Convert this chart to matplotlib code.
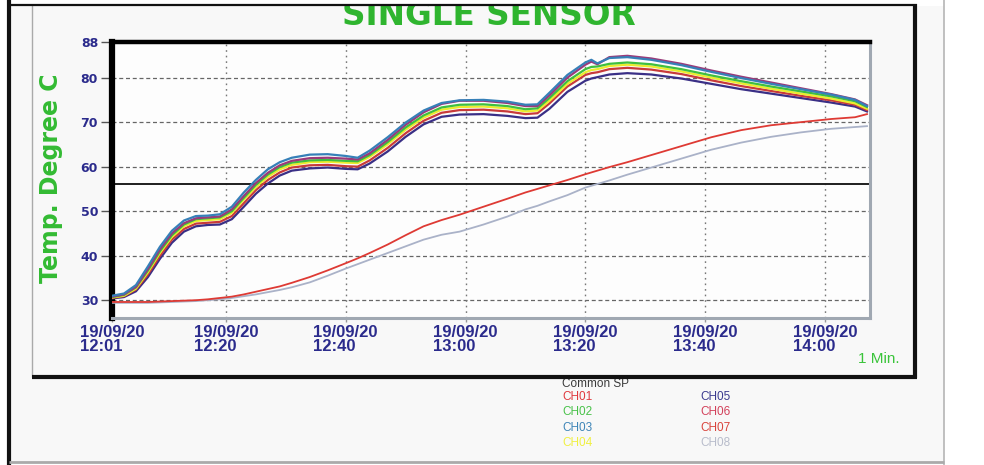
import matplotlib
matplotlib.use("Agg")
import matplotlib.pyplot as plt
from matplotlib.lines import Line2D
from matplotlib.patches import Rectangle

# ---------------- data ----------------
start_time = "12:01"
date_label = "19/09/20"
tick_times = ["12:01", "12:20", "12:40", "13:00", "13:20", "13:40", "14:00"]
x_end_min = 126.5          # minutes after start shown on the axis
y_ticks = [30, 40, 50, 60, 70, 80, 88]
y_range = (26, 88)
common_sp = 56.2

# sample times, minutes after 12:01
t_min = [0, 2, 4, 6, 8, 10, 12, 14, 16, 18, 20, 22, 24, 26, 28, 30, 33, 36, 39, 41,
         43, 46, 49, 52, 55, 58, 62, 66, 69, 71, 73, 76, 79, 80, 81, 83, 86, 90, 95,
         100, 105, 110, 115, 120, 124, 126]

ch01 = [30.5, 30.9, 32.4, 35.8, 40.0, 43.6, 46.0, 47.2, 47.4, 47.6, 48.9, 51.8, 54.7,
        57.0, 58.7, 59.8, 60.3, 60.4, 60.1, 60.0, 61.4, 64.2, 67.5, 70.3, 72.1, 72.7,
        72.8, 72.4, 71.8, 72.0, 74.2, 78.0, 80.6, 81.0, 81.2, 81.9, 82.2, 81.8, 80.8,
        79.4, 78.1, 77.0, 75.9, 74.9, 73.9, 72.7]
ch02 = [30.7, 31.2, 32.9, 36.7, 41.0, 44.6, 47.0, 48.2, 48.4, 48.6, 50.0, 53.0, 55.9,
        58.2, 59.9, 60.9, 61.4, 61.5, 61.3, 61.2, 62.6, 65.5, 68.8, 71.5, 73.3, 73.9,
        74.0, 73.6, 72.9, 73.1, 75.4, 79.2, 81.9, 82.4, 82.5, 83.1, 83.4, 83.0, 81.9,
        80.5, 79.2, 78.0, 76.9, 75.8, 74.7, 73.4]
ch03 = [31.0, 31.5, 33.4, 37.6, 42.0, 45.6, 47.9, 48.9, 49.0, 49.3, 51.0, 54.2, 57.0,
        59.4, 61.0, 62.0, 62.7, 62.8, 62.4, 62.0, 63.6, 66.6, 69.9, 72.6, 74.3, 74.9,
        75.0, 74.6, 73.9, 74.0, 76.6, 80.6, 83.4, 84.0, 83.2, 84.4, 84.6, 84.0, 82.8,
        81.3, 79.9, 78.6, 77.4, 76.2, 75.0, 73.6]
ch04 = [30.6, 31.0, 32.6, 36.3, 40.6, 44.2, 46.6, 47.8, 48.0, 48.2, 49.6, 52.6, 55.4,
        57.7, 59.4, 60.4, 61.0, 61.1, 60.9, 60.8, 62.2, 65.0, 68.3, 71.0, 72.8, 73.4,
        73.5, 73.1, 72.4, 72.6, 74.8, 78.6, 81.2, 81.7, 81.9, 82.6, 82.9, 82.5, 81.4,
        80.0, 78.7, 77.5, 76.4, 75.3, 74.2, 73.0]
ch05 = [30.4, 30.7, 32.0, 35.2, 39.3, 42.9, 45.4, 46.6, 46.9, 47.0, 48.2, 51.0, 53.9,
        56.2, 58.0, 59.1, 59.6, 59.8, 59.5, 59.4, 60.7, 63.4, 66.7, 69.5, 71.2, 71.7,
        71.8, 71.4, 70.9, 71.0, 73.0, 76.8, 79.3, 79.8, 80.1, 80.7, 81.0, 80.7, 79.8,
        78.6, 77.4, 76.4, 75.4, 74.4, 73.5, 72.4]
ch06 = [30.8, 31.3, 33.0, 37.0, 41.4, 45.0, 47.3, 48.4, 48.6, 48.8, 50.4, 53.4, 56.3,
        58.6, 60.3, 61.3, 61.9, 62.0, 61.8, 61.6, 63.0, 66.0, 69.4, 72.2, 74.1, 74.8,
        74.8, 74.3, 73.6, 73.6, 76.0, 80.0, 82.9, 83.6, 83.0, 84.6, 84.9, 84.3, 83.1,
        81.6, 80.2, 78.9, 77.6, 76.3, 75.1, 73.8]
ch07 = [29.6, 29.6, 29.6, 29.6, 29.7, 29.8, 29.9, 30.0, 30.2, 30.5, 30.8, 31.3, 31.9,
        32.5, 33.1, 33.9, 35.2, 36.7, 38.3, 39.4, 40.6, 42.5, 44.6, 46.6, 48.0, 49.2,
        51.0, 52.8, 54.2, 55.0, 55.8, 57.0, 58.3, 58.7, 59.1, 59.9, 61.0, 62.6, 64.6,
        66.6, 68.2, 69.3, 70.0, 70.7, 71.1, 71.8]
ch08 = [29.4, 29.4, 29.4, 29.4, 29.5, 29.6, 29.7, 29.8, 30.0, 30.2, 30.5, 30.9, 31.3,
        31.8, 32.3, 32.9, 34.0, 35.5, 37.1, 38.1, 39.1, 40.6, 42.1, 43.6, 44.7, 45.4,
        47.0, 48.8, 50.4, 51.2, 52.2, 53.6, 55.3, 55.7, 56.1, 56.9, 58.2, 59.8, 61.8,
        63.8, 65.4, 66.7, 67.7, 68.5, 68.9, 69.1]

legend_names = ["Common SP", "CH01", "CH02", "CH03", "CH04", "CH05", "CH06", "CH07", "CH08"]
legend_colors = ["#3a3a3a", "#e0393e", "#49c24a", "#3f86b8", "#f0f040",
                 "#3b3b8f", "#d2405a", "#d9443c", "#b8bccb"]

# ---------------- helpers ----------------
W, H = 984, 465
def fx(px):
    return px / W
def fy(py):
    return 1 - py / H
def minutes(hhmm):
    h, m = hhmm.split(":")
    h0, m0 = start_time.split(":")
    return (int(h) * 60 + int(m)) - (int(h0) * 60 + int(m0))

navy = "#2b2b8c"
green = "#33bb33"

fig = plt.figure(figsize=(W / 100, H / 100), dpi=100, facecolor="white")
fig.patches.append(Rectangle((fx(10), fy(462)), fx(944) - fx(10), fy(5) - fy(462),
                             transform=fig.transFigure, facecolor="#f8f8f8",
                             edgecolor="none", zorder=0))

ax = fig.add_axes([fx(112), fy(318), fx(870) - fx(112), fy(42) - fy(318)])
ax.set_zorder(2)
ax.set_facecolor("#fdfdfd")

# lower curves
ax.plot(t_min, ch08, color="#aab2c8", lw=1.3, zorder=3)
ax.plot(t_min, ch07, color="#de3a34", lw=1.3, zorder=3)
# set point
ax.axhline(common_sp, color="#1e1e1e", lw=1.4, zorder=2)
# upper bundle
bundle = [(ch05, "#3a2f86"), (ch01, "#c83a3a"), (ch04, "#ecec2e"),
          (ch02, "#3fbf3f"), (ch06, "#9a3a7a"), (ch03, "#3680b8")]
for series, col in bundle:
    ax.plot(t_min, series, color=col, lw=1.6, zorder=4)

ax.set_xlim(0, x_end_min)
ax.set_ylim(*y_range)

xt = [minutes(t) for t in tick_times]
ax.set_xticks(xt)
ax.set_xticklabels([f"{date_label}\n{t}" for t in tick_times],
                   fontsize=12, fontweight="bold", color=navy,
                   family=["Liberation Sans", "DejaVu Sans"], linespacing=0.95,
                   multialignment="left")
ax.set_yticks(y_ticks)
ax.set_yticklabels([str(v) for v in y_ticks], fontsize=9, fontweight="bold",
                   color=navy, family=["DejaVu Sans"])
ax.tick_params(axis="x", length=3, width=1, color="#999999", pad=2)
ax.tick_params(axis="y", length=8, width=1, color="#555555", pad=2)

# grid
for v in y_ticks[:-1]:
    ax.axhline(v, color="#666666", lw=0.9, ls=(0, (3.2, 2.2)), zorder=1)
for v in xt[1:]:
    ax.axvline(v, color="#777777", lw=1.0, ls=(0, (1.2, 2.8)), zorder=1)

for side, col, lw in [("left", "black", 4.5), ("top", "black", 3.2),
                      ("right", "#a0a8b2", 2.2), ("bottom", "#a0a8b2", 2.2)]:
    ax.spines[side].set_color(col)
    ax.spines[side].set_linewidth(lw)

# axis title (y)
fig.text(fx(51), fy(178), "Temp. Degree C", rotation=90, ha="center", va="center",
         fontsize=17, fontweight="bold", color=green, family=["DejaVu Sans"])

# chart title (top part hidden behind the panel border, as in the print)
fig.text(fx(489), fy(25), "SINGLE SENSOR", ha="center", va="baseline",
         fontsize=23.5, fontweight="bold", color="#2fb52f",
         family=["DejaVu Sans"], zorder=3)
fig.patches.append(Rectangle((0, fy(6.5)), 1, 1 - fy(6.5), transform=fig.transFigure,
                             facecolor="white", edgecolor="none", zorder=4))

# "1 Min." note
fig.text(fx(900), fy(359), "1 Min.", ha="right", va="center", fontsize=11,
         color="#3ac43a", family=["Liberation Sans", "DejaVu Sans"])

# frame lines
def fline(x0, y0, x1, y1, col, lw):
    fig.lines.append(Line2D([fx(x0), fx(x1)], [fy(y0), fy(y1)], transform=fig.transFigure,
                            color=col, lw=lw, zorder=6, solid_capstyle="butt"))

fline(9, 0, 9, 465, "#111111", 3.0)        # outer left
fline(32, 5, 32, 377, "#aaaaaa", 1.0)       # inner left
fline(8, 5, 917, 5, "#111111", 1.6)         # top
fline(915, 4, 915, 378, "#111111", 3.0)     # panel right
fline(32, 377, 917, 377, "#111111", 3.0)    # panel bottom
fline(944, 0, 944, 465, "#bbbbbb", 1.3)     # outer right
fline(9, 462, 944, 462, "#aaaaaa", 2.0)     # outer bottom

# legend (text only, coloured)
leg_pos = [(562, 384), (562, 397), (562, 412), (562, 428), (562, 443),
           (700, 397), (700, 412), (700, 428), (700, 443)]
for name, col, (lx, ly) in zip(legend_names, legend_colors, leg_pos):
    fig.text(fx(lx), fy(ly), name, ha="left", va="center", fontsize=8.5, color=col,
             family=["Liberation Sans", "DejaVu Sans"], zorder=5)

fig.savefig("out.png", dpi=100, facecolor=fig.get_facecolor())
